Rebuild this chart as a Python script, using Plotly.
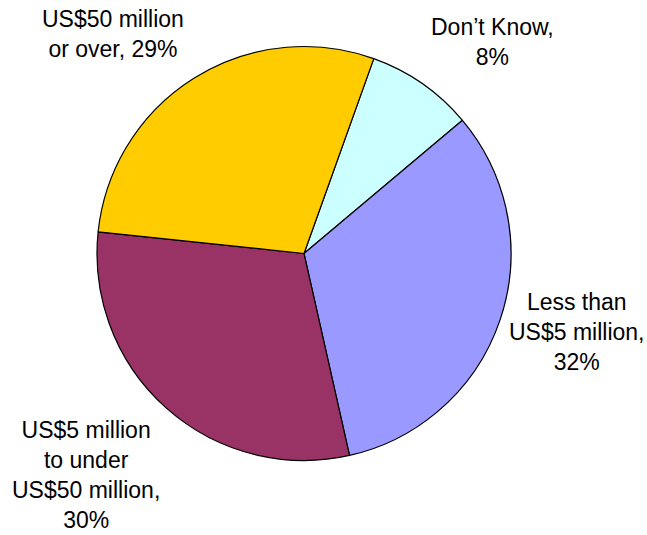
import plotly.graph_objects as go

categories = ["Don\u2019t Know", "Less than US$5 million", "US$5 million to under US$50 million", "US$50 million or over"]
values = [8.4, 32.6, 30.2, 28.8]
label_texts = ["Don\u2019t Know,<br>8%", "Less than<br>US$5 million,<br>32%",
               "US$5 million<br>to under<br>US$50 million,<br>30%", "US$50 million<br>or over, 29%"]
colors = ["#CCFFFF", "#9999FF", "#993366", "#FFCC00"]

W, H = 647, 535
label_pos = [(492, 42), (577, 332), (86, 475), (113, 34)]

def px_x(v):
    return v / W

def px_y(v):
    return 1 - v / H

fig = go.Figure(go.Pie(
    labels=categories, values=values, sort=False, direction="clockwise", rotation=19.7,
    marker=dict(colors=colors, line=dict(color="#000000", width=1.2)),
    textinfo="none", hoverinfo="label+percent", showlegend=False,
    domain=dict(x=[px_x(97), px_x(511)], y=[px_y(460.5), px_y(46.5)]),
))

for txt, (px, py) in zip(label_texts, label_pos):
    fig.add_annotation(x=px_x(px), y=px_y(py), xref="paper", yref="paper", text=txt,
                       showarrow=False, xanchor="center", yanchor="middle", align="center",
                       font=dict(family="Liberation Sans, Arial, sans-serif", size=23, color="#000000"))

fig.update_layout(width=W, height=H, margin=dict(l=0, r=0, t=0, b=0),
                  paper_bgcolor="white", plot_bgcolor="white")
fig.write_html("out.html", config={"displayModeBar": False},
               post_script="document.body.style.margin='0';document.body.style.overflow='hidden';")
